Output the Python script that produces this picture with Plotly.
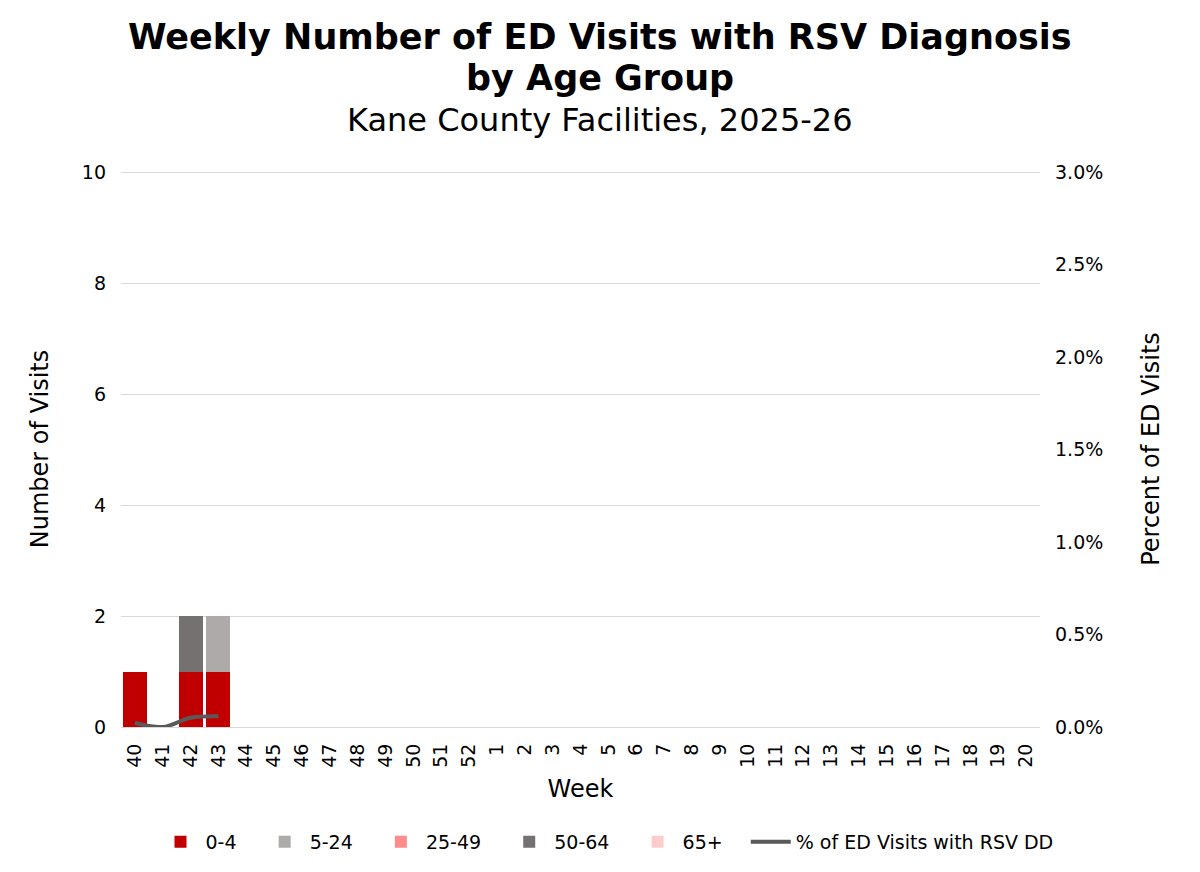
import plotly.graph_objects as go

# week labels for the 2025-26 season
weeks = [str(w) for w in list(range(40, 53)) + list(range(1, 21))]

# visits by age group (only first weeks reported so far)
age_0_4 = [1, 0, 1, 1]
age_5_24 = [0, 0, 0, 1]
age_25_49 = [0, 0, 0, 0]
age_50_64 = [0, 0, 1, 0]
age_65_plus = [0, 0, 0, 0]

# percent of ED visits with RSV diagnosis
pct_rsv = [0.023, 0.0, 0.05, 0.058]

# axis ticks
count_ticks = [0, 2, 4, 6, 8, 10]
pct_ticks = [0, 0.5, 1.0, 1.5, 2.0, 2.5, 3.0]

groups = [
    ("0-4", age_0_4, "#C00000"),
    ("5-24", age_5_24, "#AEAAAA"),
    ("25-49", age_25_49, "#FF8B8B"),
    ("50-64", age_50_64, "#767171"),
    ("65+", age_65_plus, "#FFCCCC"),
]

font_main = "DejaVu Sans, Verdana, sans-serif"
pad = "\u00a0" * 3  # extra room between legend entries

fig = go.Figure()

for name, vals, col in groups:
    fig.add_trace(go.Bar(x=weeks[:len(vals)], y=vals, name=name + pad,
                         marker=dict(color=col, line=dict(width=0))))

fig.add_trace(go.Scatter(x=weeks[:len(pct_rsv)], y=pct_rsv, name="% of ED Visits with RSV DD",
                         mode="lines", line=dict(color="#595959", width=4, shape="spline"),
                         yaxis="y2"))

# margins in figure pixels (page adds ~8px offset)
W, H = 1200, 872
m_top, m_bottom, m_left, m_right = 163, 153, 113, 168
ph = H - m_top - m_bottom
pw = W - m_left - m_right
title_x = (W / 2 - 8 - m_left) / pw
legend_x = (607 - 8 - m_left) / pw

# title lines as annotations
titles = [
    ("<b>Weekly Number of ED Visits with RSV Diagnosis</b>", 35, 29),
    ("<b>by Age Group</b>", 35, 70),
    ("Kane County Facilities, 2025-26", 32, 112),
]
for txt, size, ypx in titles:
    fig.add_annotation(text=txt, xref="paper", yref="paper", x=title_x,
                       y=1 + (m_top - ypx) / ph, showarrow=False,
                       xanchor="center", yanchor="middle",
                       font=dict(size=size, family=font_main, color="#000000"))

fig.update_layout(
    width=W, height=H,
    barmode="stack", bargap=0.14,
    plot_bgcolor="white", paper_bgcolor="white",
    font=dict(family=font_main, color="#000000", size=19),
    margin=dict(l=m_left, r=m_right, t=m_top, b=m_bottom, autoexpand=False),
    xaxis=dict(
        type="category", categoryorder="array", categoryarray=weeks,
        range=[-0.5, len(weeks) - 0.5], automargin=False,
        tickangle=-90, tickfont=dict(size=19), ticklabelstandoff=8,
        title=dict(text="Week", font=dict(size=24), standoff=13),
        showline=True, linecolor="#D9D9D9", ticks="",
    ),
    yaxis=dict(
        range=[0, 10.02], tickvals=count_ticks, tickfont=dict(size=19),
        ticklabelstandoff=14, automargin=False,
        title=dict(text="Number of Visits", font=dict(size=24), standoff=26),
        gridcolor="#D9D9D9", zeroline=False, ticks="",
    ),
    yaxis2=dict(
        overlaying="y", side="right", range=[0, 3.006],
        tickvals=pct_ticks, ticktext=[f"{v:.1f}%" for v in pct_ticks],
        tickfont=dict(size=19), ticklabelstandoff=14, automargin=False,
        title=dict(text="Percent of ED Visits", font=dict(size=24), standoff=39),
        showgrid=False, zeroline=False, ticks="",
    ),
    legend=dict(
        orientation="h", xref="paper", x=legend_x, xanchor="center",
        yref="container", y=38 / H, yanchor="middle",
        font=dict(size=19), traceorder="normal", itemwidth=40,
    ),
)

fig.write_html("out.html")
